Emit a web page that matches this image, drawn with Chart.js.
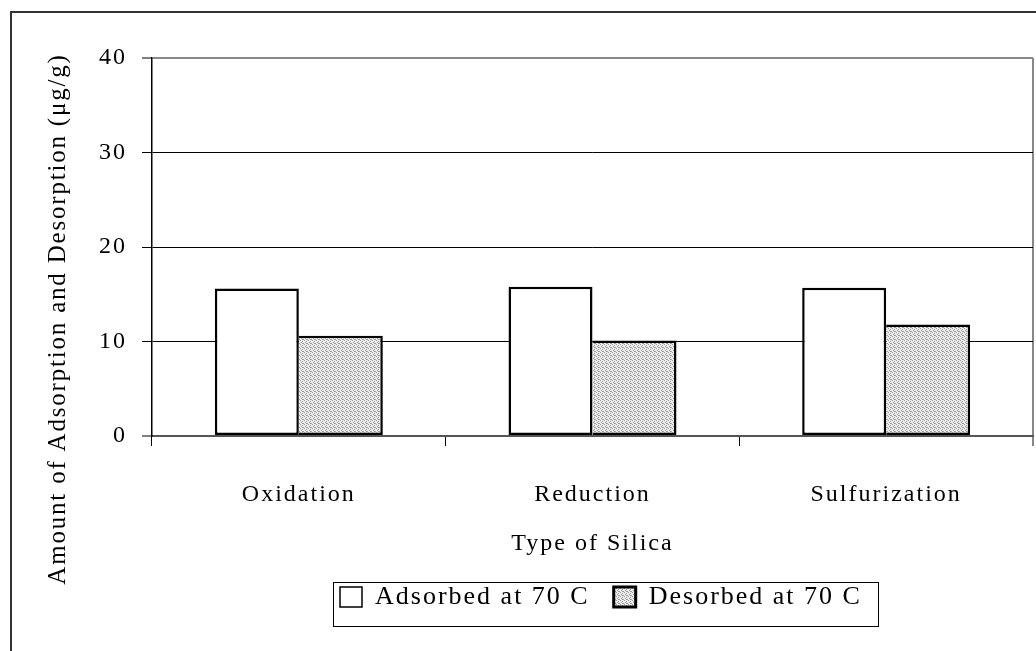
<!DOCTYPE html>
<html>
<head>
    <meta charset="UTF-8">
    <title>Adsorption and Desorption by Type of Silica</title>
    <script src="https://cdn.jsdelivr.net/npm/chart.js"></script>
    <style>
        html, body { margin: 0; padding: 0; background: #fff; }
        .chart-container { position: relative; width: 1036px; height: 651px; }
    </style>
</head>
<body>
    <div class="chart-container">
        <canvas id="silicaChart" width="1036" height="651"></canvas>
    </div>

    <script type="text/javascript">
        const silicaTypes = ['Oxidation', 'Reduction', 'Sulfurization'];
        const adsorbed = [15.6, 15.8, 15.7];
        const desorbed = [10.6, 10.1, 11.8];
        const seriesLabels = ['Adsorbed at 70 C', 'Desorbed at 70 C'];
        const yTicks = [0, 10, 20, 30, 40];
        const xTitle = 'Type of Silica';
        const yTitle = 'Amount of Adsorption and Desorption (\u03bcg/g)';

        const serif = 'Liberation Serif';
        const canvas = document.getElementById('silicaChart');
        const ctx = canvas.getContext('2d');

        // fine grey dot fill like the old spreadsheet pattern
        function dotPattern() {
            const c = document.createElement('canvas');
            c.width = 4;
            c.height = 4;
            const g = c.getContext('2d');
            g.fillStyle = '#ececec';
            g.fillRect(0, 0, 4, 4);
            g.fillStyle = '#9c9c9c';
            [[0, 0], [2, 1], [1, 2], [3, 3], [2, 3]].forEach(p => g.fillRect(p[0], p[1], 1, 1));
            return ctx.createPattern(c, 'repeat');
        }

        const extras = {
            id: 'extras',
            beforeLayout(chart) {
                chart.ctx.letterSpacing = '2px';
            },
            afterLayout(chart) {
                const lg = chart.legend;
                const dx = 316 - lg.left;
                lg.left += dx;
                lg.right += dx;
            },
            beforeDraw(chart) {
                const c = chart.ctx;
                c.letterSpacing = '2px';
                c.save();
                c.strokeStyle = '#333';
                c.lineWidth = 2;
                c.beginPath();
                c.moveTo(11, 700);
                c.lineTo(11, 12);
                c.lineTo(1100, 12);
                c.stroke();
                c.restore();
            },
            afterDraw(chart) {
                const c = chart.ctx;
                c.save();
                // box around the legend
                const hb = chart.legend.legendHitBoxes;
                if (hb && hb.length) {
                    const last = hb[hb.length - 1];
                    const l = Math.round(hb[0].left - 7) + 0.5;
                    const r = Math.round(last.left + last.width + 16) + 0.5;
                    const t = Math.round(hb[0].top - 2) + 0.5;
                    const b = Math.round(hb[0].top + hb[0].height + 16) + 0.5;
                    c.strokeStyle = '#000';
                    c.lineWidth = 1;
                    c.strokeRect(l, t, r - l, b - t);
                }
                // y axis title
                c.letterSpacing = '1.8px';
                c.font = '25px "' + serif + '"';
                c.fillStyle = '#000';
                c.textAlign = 'center';
                c.textBaseline = 'middle';
                c.translate(58, 319);
                c.rotate(-Math.PI / 2);
                c.fillText(yTitle, 0, 0);
                c.restore();
            }
        };

        const tickFont = { family: serif, size: 24 };
        const legendFont = { family: serif, size: 26 };

        const myChart = new Chart(ctx, {
            type: 'bar',
            data: {
                labels: silicaTypes,
                datasets: [
                    {
                        label: seriesLabels[0],
                        data: adsorbed,
                        backgroundColor: '#ffffff',
                        borderColor: '#000000',
                        borderWidth: 2.5,
                        borderSkipped: false
                    },
                    {
                        label: seriesLabels[1],
                        data: desorbed,
                        backgroundColor: dotPattern(),
                        borderColor: '#000000',
                        borderWidth: { left: 0, right: 2.5, top: 2.5, bottom: 2.5 },
                        borderSkipped: false
                    }
                ]
            },
            options: {
                responsive: false,
                animation: false,
                categoryPercentage: 0.572,
                barPercentage: 1,
                layout: { padding: { left: 0, top: 58, right: 3, bottom: 31 } },
                plugins: {
                    legend: {
                        position: 'bottom',
                        align: 'start',
                        fullSize: false,
                        labels: {
                            color: '#000',
                            font: legendFont,
                            boxWidth: 22,
                            boxHeight: 20,
                            padding: 24,
                            generateLabels(chart) {
                                const items = Chart.defaults.plugins.legend.labels.generateLabels(chart);
                                return items.map((it, i) => Object.assign(it, { lineWidth: i === 0 ? 1.5 : 3 }));
                            }
                        }
                    },
                    tooltip: { enabled: false }
                },
                scales: {
                    x: {
                        grid: {
                            offset: true,
                            tickLength: 10,
                            color: c => c.index === undefined ? '#888888' : (c.index === 0 ? '#000000' : 'rgba(0,0,0,0)'),
                            lineWidth: c => c.index === undefined ? 2 : 1,
                            tickColor: c => c.index === undefined ? '#888888' : '#000000'
                        },
                        border: { color: '#555555', width: 2 },
                        ticks: { color: '#000', font: tickFont, padding: 34 },
                        title: {
                            display: true,
                            text: xTitle,
                            color: '#000',
                            font: tickFont,
                            padding: { top: 0, bottom: 2 }
                        },
                        afterFit(scale) { scale.height = 124; }
                    },
                    y: {
                        min: yTicks[0],
                        max: yTicks[yTicks.length - 1],
                        ticks: {
                            stepSize: yTicks[1] - yTicks[0],
                            color: '#000',
                            font: tickFont,
                            padding: 15
                        },
                        grid: {
                            tickLength: 10,
                            color: c => c.tick.value === yTicks[yTicks.length - 1] ? '#888888' : (c.tick.value === 0 ? '#555555' : '#000000'),
                            lineWidth: c => (c.tick.value === yTicks[yTicks.length - 1] || c.tick.value === 0) ? 2 : 1,
                            tickColor: '#000000',
                            tickWidth: 1
                        },
                        border: { color: '#000000', width: 1.5 },
                        afterFit(scale) { scale.width = 152; }
                    }
                }
            },
            plugins: [extras]
        });
    </script>
</body>
</html>
